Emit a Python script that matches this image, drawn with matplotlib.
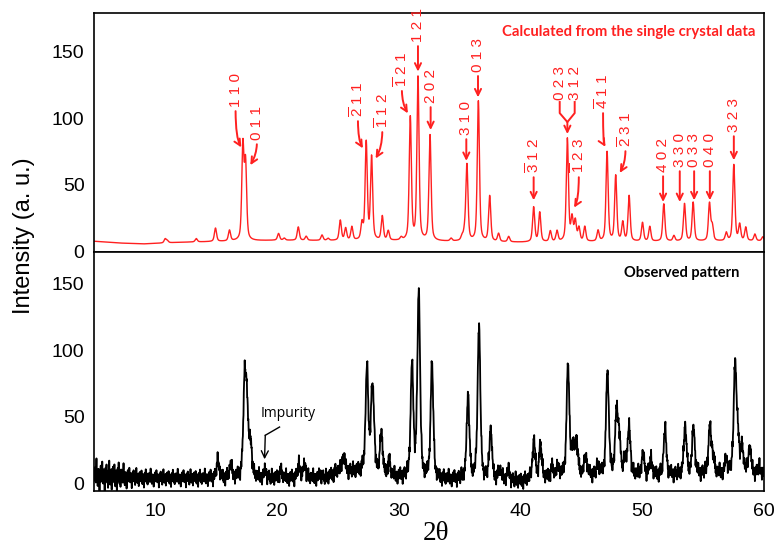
import numpy as np
import matplotlib
matplotlib.use("Agg")
import matplotlib.pyplot as plt

# ---------------- data ----------------
# calculated pattern: peak positions (2theta), heights above baseline
calc_pos = [10.82, 11.0, 13.37, 14.95, 16.1, 17.2, 17.42, 20.13, 20.6, 21.75,
            22.4, 23.7, 24.2, 25.2, 25.64, 26.15, 26.98, 27.33, 27.77, 28.65,
            29.14, 30.2, 30.95, 31.58, 32.57, 34.3, 35.2, 35.4, 35.6, 36.54,
            37.47, 38.2, 39.03, 41.08, 41.58, 42.45, 43.0, 43.85, 44.23, 44.5,
            44.8, 45.28, 46.37, 47.11, 47.82, 48.4, 48.92, 50.02, 50.62, 51.77,
            52.6, 53.47, 54.18, 55.52, 55.75, 56.9, 57.52, 58.0, 58.5, 59.25, 59.9]
calc_height = [3, 1.5, 2.5, 10, 8, 70, 56, 5, 1.5, 10,
               3, 4, 1.5, 15, 9, 10, 12, 73, 62, 18,
               7, 2, 92, 122, 79, 2, 3, 5, 57, 105,
               34, 6, 4, 26, 22, 8, 8, 77, 17, 15,
               10, 11, 8, 67, 49, 14, 34, 14, 11, 28,
               4, 28, 29, 28, 11, 6, 57, 12, 10, 5, 3]
calc_base_x = [5, 7, 9, 12, 20, 30, 40, 50, 60]
calc_base_y = [7.8, 6.5, 5.8, 7.0, 8.5, 8.0, 7.0, 7.5, 8.0]
calc_width = 0.21

# observed pattern
obs_pos = [15.15, 16.2, 17.34, 17.53, 17.83, 19.04, 20.3, 21.8, 22.27, 23.6,
           25.47, 27.39, 27.8, 27.94, 28.57, 29.2, 31.09, 31.64, 32.73, 35.69,
           36.59, 37.55, 38.3, 39.0, 41.1, 41.64, 42.6, 43.1, 43.9, 44.3,
           44.6, 45.36, 46.37, 47.14, 47.88, 48.1, 48.6, 48.92, 50.06, 50.7,
           51.87, 53.52, 54.21, 55.55, 55.8, 56.9, 57.62, 57.85, 58.2, 58.83, 59.6]
obs_height = [13, 9, 66, 50, 24, 5, 5, 10, 10, 3,
              12, 78, 50, 28, 33, 11, 84, 140, 86, 63,
              116, 36, 7, 7, 29, 25, 7, 7, 84, 20,
              25, 14, 7, 78, 44, 27, 11, 36, 15, 12,
              34, 36, 34, 35, 12, 10, 81, 25, 18, 20, 5]
obs_base_x = [5, 7, 9, 15, 20, 24, 25, 27, 28, 30, 33, 35, 38, 40, 42, 45, 50, 55, 60]
obs_base_y = [6, 5, 4, 4, 4, 4, 9, 9, 5, 4.5, 3, 3, 3, 1.5, 4, 6, 6, 7, 7]
obs_noise_x = [5, 7, 8, 10, 15, 60]
obs_noise_amp = [13, 12, 8, 7, 7, 7]
obs_width = 0.26
jitter = [0.1, -0.3, 0.2, 0.5, -0.1, -0.4, 0.3, 1.0, 0.0, -0.2, 0.35, -0.6, 0.15,
          -0.05, 0.4, -0.3, 0.2, -0.9, 0.1, 0.25, -0.15, 0.6, -0.35, 0.05, 0.3,
          -0.25, 0.85, -0.1, 0.2, -0.45, 0.0, 0.4, -0.2, 0.15, -1.0, 0.3, -0.05,
          0.5, -0.3, 0.1, 0.7, -0.15, 0.25, -0.4, 0.05, -0.7, 0.35, 0.2, -0.1,
          0.95, -0.3, 0.0, -0.5, 0.15, 0.3, -0.2, 0.45, -0.8, 0.1, 0.25, -0.35,
          0.6, -0.05, 0.2, -0.25, 0.0, 0.75, -0.4, 0.1, -0.6, 0.3, -0.15, 0.4,
          0.05, -0.95, 0.2, -0.1, 0.55, -0.3, 0.15, 0.9, -0.2, 0.35, -0.45, 0.0,
          0.25, -0.65, 0.1, 0.5]

# Miller index labels: text, label x, label bottom (intensity), arrow tip x, tip y, hook
hkl_labels = [
    ("1 1 0", 16.60, 108.3, 17.07, 78.1, 120),
    ("0 1 1", 18.35, 83.5, 17.81, 64.8, 60),
    (r"$\overline{\mathrm{2}}$ 1 1", 26.65, 100.8, 27.06, 77.4, 120),
    (r"$\overline{\mathrm{1}}$ 1 2", 28.65, 92.6, 28.10, 69.8, 60),
    (r"$\overline{\mathrm{1}}$ 2 1", 30.26, 123.4, 30.75, 103.6, 120),
    ("1 2 1", 31.58, 157.0, 31.58, 134.9, None),
    ("2 0 2", 32.62, 111.3, 32.62, 91.1, None),
    ("3 1 0", 35.55, 87.3, 35.55, 68.0, None),
    ("0 1 3", 36.51, 134.6, 36.51, 115.6, None),
    (r"$\overline{\mathrm{3}}$ 1 2", 41.08, 58.8, 41.08, 38.5, None),
    (r"$\overline{\mathrm{1}}$ 2 3", 44.79, 58.8, 44.40, 33.0, 60),
    (r"$\overline{\mathrm{4}}$ 1 1", 46.78, 106.8, 46.98, 78.5, 120),
    (r"$\overline{\mathrm{2}}$ 3 1", 48.62, 78.3, 48.15, 59.0, 60),
    ("4 0 2", 51.71, 59.5, 51.71, 37.2, None),
    ("3 3 0", 53.08, 63.3, 53.08, 37.2, None),
    ("0 3 3", 54.26, 63.3, 54.26, 38.5, None),
    ("0 4 0", 55.55, 63.3, 55.55, 38.5, None),
    ("3 2 3", 57.52, 89.5, 57.52, 68.5, None),
]
# bracketed pair 023 / 312
pair_labels = ["0 2 3", "3 1 2"]
pair_x = [43.22, 44.45]
pair_bottom = 113.6
pair_knee = 103.8
pair_join = (43.85, 97.1)
pair_tip = 88.1

impurity_text = (20.9, 52.7)
impurity_path = [(20.21, 42.4), (19.04, 36.2)]
impurity_tip = (18.98, 18.2)

yticks = [0, 50, 100, 150]
xticks = [10, 20, 30, 40, 50, 60]


def profile(x, pos, height, width, eta=0.5):
    y = np.zeros_like(x)
    hw = width / 2.0
    for p, h in zip(pos, height):
        u = ((x - p) / hw) ** 2
        y += h * (eta / (1 + u) + (1 - eta) * np.exp(-np.log(2) * u))
    return y


x_calc = np.arange(5.0, 60.0001, 0.01)
y_calc = np.interp(x_calc, calc_base_x, calc_base_y) + profile(x_calc, calc_pos, calc_height, calc_width)

x_obs = np.arange(5.0, 60.0001, 0.025)
jit = np.resize(np.array(jitter), x_obs.size)
y_obs = (np.interp(x_obs, obs_base_x, obs_base_y)
         + profile(x_obs, obs_pos, obs_height, obs_width)
         + jit * np.interp(x_obs, obs_noise_x, obs_noise_amp))

# ---------------- figure ----------------
plt.rcParams['font.family'] = ['Liberation Sans', 'DejaVu Sans']
plt.rcParams['mathtext.fontset'] = 'custom'
plt.rcParams['mathtext.rm'] = 'Liberation Sans'
plt.rcParams['mathtext.it'] = 'Liberation Sans:italic'
plt.rcParams['mathtext.bf'] = 'Liberation Sans:bold'

fig = plt.figure(figsize=(7.77, 5.5), dpi=100)
ax1 = fig.add_axes([0.1214, 0.5424, 0.8619, 0.4345])
ax2 = fig.add_axes([0.1214, 0.1073, 0.8619, 0.4351])

red = '#ff2020'
ax1.plot(x_calc, y_calc, color=red, lw=1.0)
ax2.plot(x_obs, y_obs, color='black', lw=1.3)

ax1.set_xlim(5, 60)
ax2.set_xlim(5, 60)
ax1.set_ylim(0, 179)
ax2.set_ylim(-5.6, 174)
for ax in (ax1, ax2):
    ax.set_yticks(yticks)
    ax.tick_params(axis='both', length=0, labelsize=14, pad=7)
    for s in ax.spines.values():
        s.set_linewidth(1.2)
ax1.set_xticks([])
ax2.set_xticks(xticks)
ax2.tick_params(axis='x', pad=9)

fig.text(0.0315, 0.572, 'Intensity (a. u.)', rotation=90, ha='center', va='center', fontsize=17)
fig.text(436 / 777, 1 - 533 / 550, '2\u03b8', ha='center', va='center', fontsize=19.5,
         family=['Liberation Serif', 'DejaVu Serif'])

ax1.text(0.9866, 0.9205, 'Calculated from the single crystal data', transform=ax1.transAxes,
         ha='right', va='center', color=red, fontsize=10.7, fontweight='bold',
         family=['Lato', 'DejaVu Sans'])
ax2.text(0.963, 0.9097, 'Observed pattern', transform=ax2.transAxes,
         ha='right', va='center', color='black', fontsize=10.5, fontweight='bold',
         family=['Lato', 'DejaVu Sans'])

arrow_kw = dict(arrowstyle='->,head_length=0.45,head_width=0.22', color=red, lw=1.4,
                shrinkA=1, shrinkB=0)
for txt, lx, ly, tx, ty, hook in hkl_labels:
    ax1.text(lx, ly, txt, rotation=90, ha='center', va='bottom', color=red, fontsize=11)
    if hook is None:
        cs = 'arc3'
    else:
        cs = 'angle3,angleA=90,angleB=%d' % hook
    ax1.annotate('', xy=(tx, ty), xytext=(lx, ly - 2), arrowprops=dict(connectionstyle=cs, **arrow_kw))

for txt, px in zip(pair_labels, pair_x):
    ax1.text(px, pair_bottom, txt, rotation=90, ha='center', va='bottom', color=red, fontsize=11)
    ax1.plot([px, px, pair_join[0]], [pair_bottom - 1.5, pair_knee, pair_join[1]], color=red, lw=1.4)
ax1.annotate('', xy=(pair_join[0], pair_tip), xytext=pair_join, arrowprops=dict(connectionstyle='arc3', **arrow_kw))

ax2.text(impurity_text[0], impurity_text[1], 'Impurity', ha='center', va='center', fontsize=10,
         family=['Open Sans', 'DejaVu Sans'])
ax2.plot([p[0] for p in impurity_path], [p[1] for p in impurity_path], color='black', lw=1.0)
ax2.annotate('', xy=impurity_tip, xytext=impurity_path[-1],
             arrowprops=dict(arrowstyle='->,head_length=0.5,head_width=0.25', color='black', lw=1.0,
                             shrinkA=0, shrinkB=0))

fig.savefig('out.png', dpi=100)
